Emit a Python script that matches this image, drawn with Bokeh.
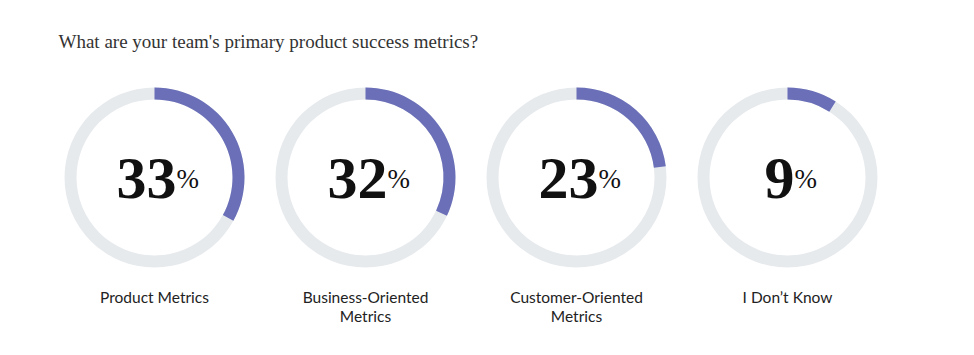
import math
from bokeh.plotting import figure
from bokeh.models import Range1d, ColumnDataSource
from bokeh.core.properties import value
from bokeh.embed import file_html
from bokeh.resources import INLINE

title = "What are your team's primary product success metrics?"
categories = ["Product Metrics", "Business-Oriented\nMetrics", "Customer-Oriented\nMetrics", "I Don\u2019t Know"]
percents = [33, 32, 23, 9]

W, H = 958, 339
p = figure(width=W, height=H, output_backend="svg", toolbar_location=None,
           x_range=Range1d(0, W), y_range=Range1d(0, H), min_border=0)
p.axis.visible = False
p.grid.visible = False
p.outline_line_color = None
p.background_fill_color = "white"
p.border_fill_color = "white"

cx = [154 + 211 * i for i in range(len(percents))]
cy = 162
ring = "#e6eaed"
arc = "#6a6fb8"

src = ColumnDataSource(dict(
    x=cx, y=[cy] * len(cx),
    start=[math.pi / 2] * len(cx),
    end=[math.pi / 2 - 2 * math.pi * v / 100 for v in percents],
    num=[str(v) for v in percents],
    pct=["%"] * len(cx),
    ax=[c + 15 * len(str(v)) - 8 for c, v in zip(cx, percents)],
))

p.annular_wedge(x=cx, y=[cy] * len(cx), inner_radius=78, outer_radius=90,
                inner_radius_units="screen", outer_radius_units="screen",
                start_angle=0, end_angle=2 * math.pi, color=ring, line_color=None)
p.annular_wedge(x="x", y="y", inner_radius=78, outer_radius=90,
                inner_radius_units="screen", outer_radius_units="screen",
                start_angle="start", end_angle="end", direction="clock",
                color=arc, line_color=None, source=src)

p.text(x="ax", y=161, text="num", source=src, text_align="right", text_baseline="alphabetic",
       text_font=value("Liberation Serif"), text_font_style="bold", text_font_size="60px",
       text_color="#111111")
p.text(x="ax", y=161, text="pct", source=src, text_align="left", text_baseline="alphabetic",
       text_font=value("Liberation Serif"), text_font_size="27px", text_color="#111111")

lx, ly, lt = [], [], []
for c, lab in zip(cx, categories):
    for j, line in enumerate(lab.split("\n")):
        lx.append(c)
        ly.append(43 - 19 * j)
        lt.append(line)
p.text(x=lx, y=ly, text=lt, text_align="center", text_baseline="alphabetic",
       text_font=value("Lato"), text_font_size="15.5px", text_color="#222222")

p.text(x=[58], y=[298], text=[title], text_align="left", text_baseline="alphabetic",
       text_font=value("Liberation Serif"), text_font_size="19px", text_color="#333333")

open("out.html", "w").write(file_html(p, INLINE))
